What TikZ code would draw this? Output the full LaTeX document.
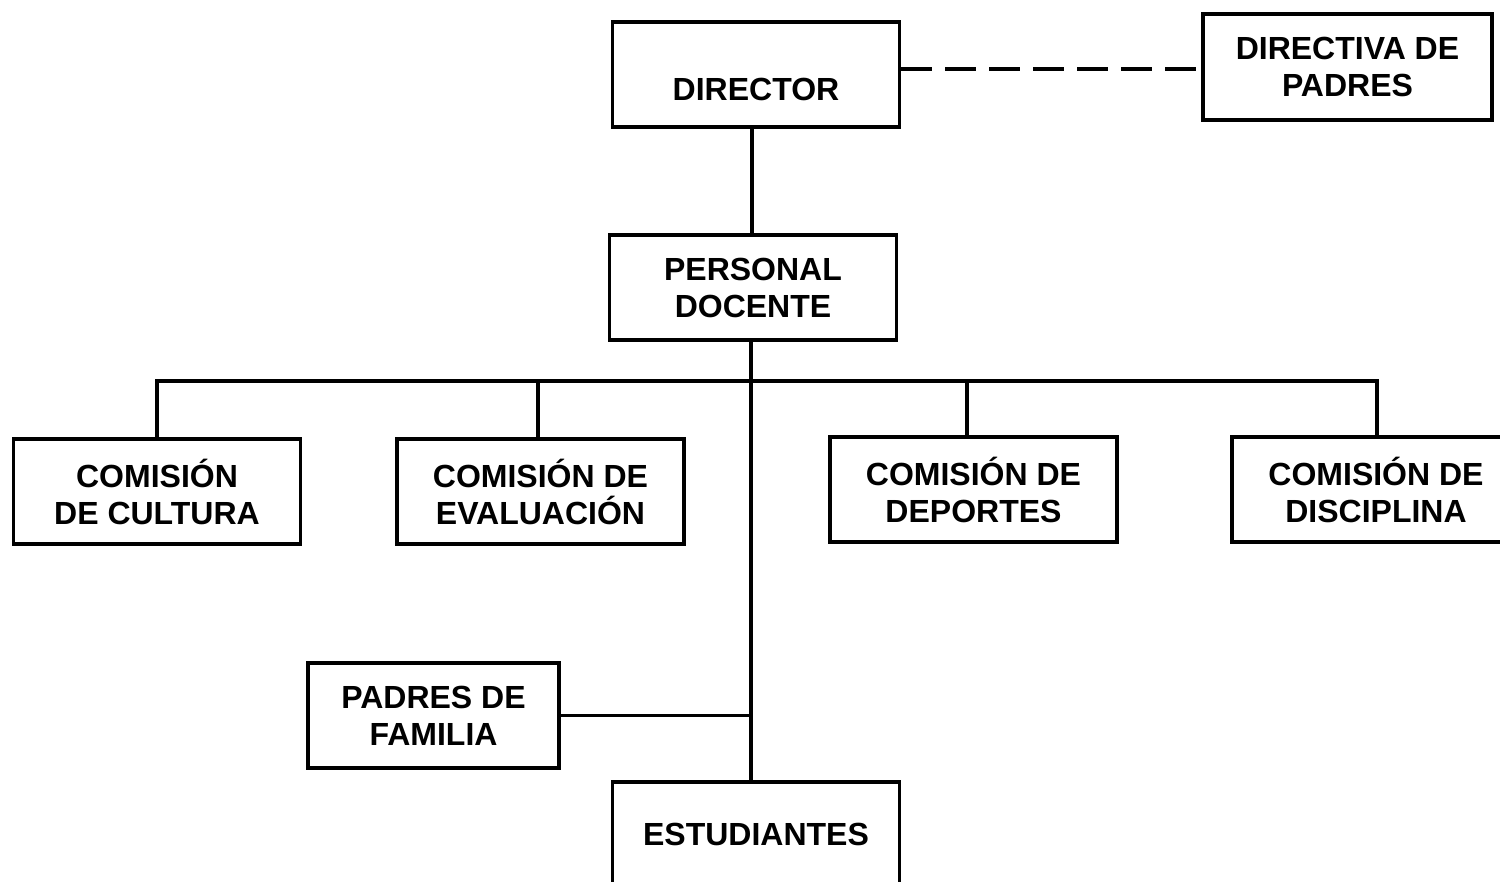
\documentclass[tikz,border=0pt]{standalone}
\usepackage{fontspec}
\setmainfont{Liberation Sans}
\begin{document}
\begin{tikzpicture}[x=1pt,y=-1pt,
  orgbox/.style={draw, line width=3.3pt, minimum width=287pt, minimum height=105pt,
    inner sep=0pt, align=center, font=\fontsize{32}{37}\selectfont\bfseries},
  conn/.style={line width=3.3pt},
  dashconn/.style={line width=3.3pt, dash pattern=on 31pt off 13pt}]
\useasboundingbox (0,0) rectangle (1500,882);
\fill[white] (0,0) rectangle (1500,882);
\node[orgbox, text height=53pt, text depth=0pt] (dir) at (756,74.5) {DIRECTOR};
\node[orgbox, minimum width=289pt, minimum height=106pt] (dirp) at (1347.5,67) {DIRECTIVA DE\\PADRES};
\node[orgbox] (pers) at (753,287.5) {PERSONAL\\DOCENTE};
\node[orgbox] (cult) at (157,491.5) {COMISIÓN\\DE CULTURA};
\node[orgbox] (eval) at (540.5,491.5) {COMISIÓN DE\\EVALUACIÓN};
\node[orgbox] (dep) at (973.5,489.5) {COMISIÓN DE\\DEPORTES};
\node[orgbox, minimum width=288pt] (disc) at (1376,489.5) {COMISIÓN DE\\DISCIPLINA};
\node[orgbox, minimum width=251pt] (padres) at (433.5,715.5) {PADRES DE\\FAMILIA};
\node[orgbox, text height=22pt, text depth=0pt] (est) at (756,834.5) {ESTUDIANTES};
\coordinate (bus) at (751,381);
\coordinate (dj) at ([yshift=5.5pt]dir.east);
\draw[dashconn] (dj) -- (dj -| dirp.west);
\draw[conn] ([xshift=-4pt]dir.south) -- ([xshift=-4pt]dir.south |- pers.north);
\draw[conn] ([xshift=-2pt]pers.south) -- ([xshift=-2pt]pers.south |- est.north);
\draw[conn] (cult.north) |- (bus) -| ([xshift=1pt]disc.north);
\draw[conn] ([xshift=-2.5pt]eval.north) -- ([xshift=-2.5pt]eval.north |- bus);
\draw[conn] ([xshift=-6.5pt]dep.north) -- ([xshift=-6.5pt]dep.north |- bus);
\draw[conn] (padres.east) -- (padres.east -| bus);
\end{tikzpicture}
\end{document}
